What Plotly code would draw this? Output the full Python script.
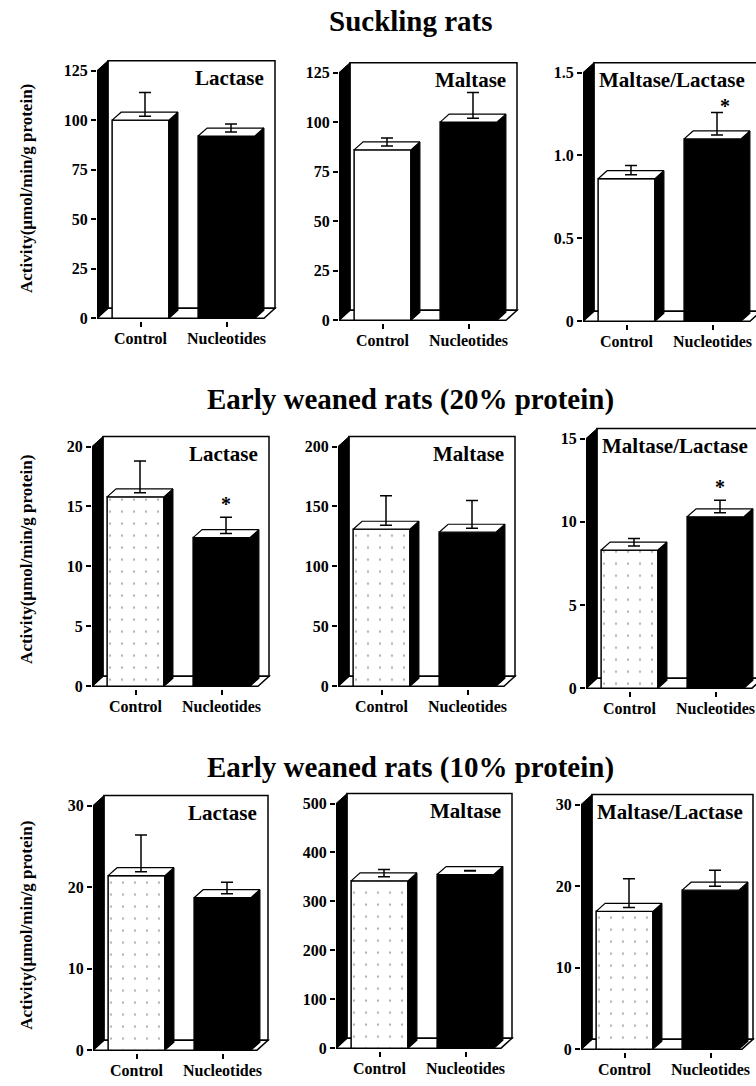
import plotly.graph_objects as go

# ---------------- data ----------------
groups = ["Suckling rats", "Early weaned rats (20% protein)", "Early weaned rats (10% protein)"]
enzymes = ["Lactase", "Maltase", "Maltase/Lactase"]
categories = ["Control", "Nucleotides"]

control_mean = [[100, 86, 0.86], [15.8, 131, 8.3], [21.4, 342, 16.9]]
control_sem = [[14, 6, 0.08], [3.0, 28, 0.7], [5.0, 23, 4.0]]
nucleo_mean = [[92, 100, 1.10], [12.4, 128.5, 10.3], [18.7, 355, 19.5]]
nucleo_sem = [[6, 15, 0.16], [1.7, 26.5, 1.0], [1.9, 7, 2.45]]
significant = [[False, False, True], [True, False, True], [False, False, False]]

y_max = [[125, 125, 1.5], [20, 200, 15], [30, 500, 30]]
y_ticks = [
    [[0, 25, 50, 75, 100, 125], [0, 25, 50, 75, 100, 125], [0, 0.5, 1.0, 1.5]],
    [[0, 5, 10, 15, 20], [0, 50, 100, 150, 200], [0, 5, 10, 15]],
    [[0, 10, 20, 30], [0, 100, 200, 300, 400, 500], [0, 10, 20, 30]],
]
y_ticktext = [
    [["0", "25", "50", "75", "100", "125"], ["0", "25", "50", "75", "100", "125"], ["0", "0.5", "1.0", "1.5"]],
    [["0", "5", "10", "15", "20"], ["0", "50", "100", "150", "200"], ["0", "5", "10", "15"]],
    [["0", "10", "20", "30"], ["0", "100", "200", "300", "400", "500"], ["0", "10", "20", "30"]],
]
y_title = "Activity(µmol/min/g protein)"

# ---------------- layout geometry (pixels) ----------------
W, H = 756, 1086
panel_x0 = [[97, 339, 583], [92, 338, 586], [93, 336, 581]]
panel_x1 = [[275, 517, 761], [269, 515, 763], [268, 512, 753]]
panel_y0 = [[320, 322, 323], [690, 690, 692], [1056, 1054, 1055]]
panel_yt = [[71, 73, 73], [449, 449, 441], [810, 808, 809]]
title_y = [21, 402, 772]
ytitle_y = [190, 563, 931]

K = 86.0          # px per category unit
CTRL_OFF = 43.5   # px from axis to control bar centre
BAR_W = 0.66
BAR_DX_PX, BAR_DY_PX = 9, 8
WALL_DX_PX, WALL_DY_PX = 11, 10
PAD = 3
FONT = "Liberation Serif, Times New Roman, serif"

fig = go.Figure()
shapes = []
annotations = []
layout_axes = {}

for r in range(3):
    for c in range(3):
        idx = r * 3 + c + 1
        xa = "x" if idx == 1 else f"x{idx}"
        ya = "y" if idx == 1 else f"y{idx}"
        xa_key = "xaxis" if idx == 1 else f"xaxis{idx}"
        ya_key = "yaxis" if idx == 1 else f"yaxis{idx}"

        x0, x1 = panel_x0[r][c], panel_x1[r][c]
        y0, yt = panel_y0[r][c], panel_yt[r][c]
        ym = y_max[r][c]
        ppu = (y0 - yt) / ym  # px per y unit

        xmin = -CTRL_OFF / K
        xr = xmin + (x1 - x0) / K
        xmax_px = min(x1 + PAD, W)
        xmax = xmin + (xmax_px - x0) / K
        ytop_px = yt - WALL_DY_PX
        top_px = ytop_px - PAD
        ymin = -PAD / ppu
        ymaxr = (y0 - top_px) / ppu

        dxw = WALL_DX_PX / K
        dyw = WALL_DY_PX / ppu
        bdx = BAR_DX_PX / K
        bdy = BAR_DY_PX / ppu

        layout_axes[xa_key] = dict(
            domain=[x0 / W, xmax_px / W], range=[xmin, xmax], anchor=ya,
            showgrid=False, zeroline=False, showline=False,
            tickmode="array", tickvals=[0, 1], ticktext=categories,
            ticks="outside", ticklen=5, tickwidth=1.5, tickcolor="black",
            ticklabelstandoff=-2,
            tickfont=dict(family=FONT, size=16, color="black", weight="bold"),
            fixedrange=True,
        )
        layout_axes[ya_key] = dict(
            domain=[1 - (y0 + PAD) / H, 1 - top_px / H], range=[ymin, ymaxr], anchor=xa,
            showgrid=False, zeroline=False, showline=False,
            tickmode="array", tickvals=y_ticks[r][c], ticktext=y_ticktext[r][c],
            ticks="outside", ticklen=5, tickwidth=1.5, tickcolor="black",
            tickfont=dict(family=FONT, size=16, color="black", weight="bold"),
            fixedrange=True,
        )

        # back wall, floor, side wall
        shapes.append(dict(type="rect", xref=xa, yref=ya, x0=xmin + dxw, x1=xr, y0=dyw, y1=ym + dyw,
                           fillcolor="white", line=dict(color="black", width=1.5), layer="below"))
        shapes.append(dict(type="path", xref=xa, yref=ya,
                           path=f"M {xmin},0 L {xr - dxw},0 L {xr},{dyw} L {xmin + dxw},{dyw} Z",
                           fillcolor="white", line=dict(color="black", width=1.5), layer="below"))
        shapes.append(dict(type="path", xref=xa, yref=ya,
                           path=f"M {xmin},0 L {xmin},{ym} L {xmin + dxw},{ym + dyw} L {xmin + dxw},{dyw} Z",
                           fillcolor="black", line=dict(color="black", width=1), layer="below"))

        means = [control_mean[r][c], nucleo_mean[r][c]]
        sems = [control_sem[r][c], nucleo_sem[r][c]]

        # front faces
        ctrl_pattern = dict(shape="." if r > 0 else "", size=12, solidity=0.03, fgcolor="#666", fillmode="overlay")
        fig.add_trace(go.Bar(x=[0], y=[means[0]], width=BAR_W, xaxis=xa, yaxis=ya,
                             marker=dict(color="white", line=dict(color="black", width=1.5), pattern=ctrl_pattern),
                             showlegend=False, hoverinfo="skip"))
        fig.add_trace(go.Bar(x=[1], y=[means[1]], width=BAR_W, xaxis=xa, yaxis=ya,
                             marker=dict(color="black", line=dict(color="black", width=1.5)),
                             showlegend=False, hoverinfo="skip"))

        # side and top faces
        sx, sy, tx, ty = [], [], [], []
        for i, v in enumerate(means):
            left, right = i - BAR_W / 2, i + BAR_W / 2
            sx += [right, right, right + bdx, right + bdx, right, None]
            sy += [0, v, v + bdy, bdy, 0, None]
            tx += [left, right, right + bdx, left + bdx, left, None]
            ty += [v, v, v + bdy, v + bdy, v, None]
        fig.add_trace(go.Scatter(x=sx, y=sy, xaxis=xa, yaxis=ya, mode="lines", fill="toself",
                                 fillcolor="black", line=dict(color="black", width=1.2),
                                 showlegend=False, hoverinfo="skip"))
        fig.add_trace(go.Scatter(x=tx, y=ty, xaxis=xa, yaxis=ya, mode="lines", fill="toself",
                                 fillcolor="white", line=dict(color="black", width=1.2),
                                 showlegend=False, hoverinfo="skip"))

        # error bars
        ex = [i + bdx / 2 for i in range(2)]
        ey = [v + bdy / 2 for v in means]
        eu = [s - bdy / 2 for s in sems]
        fig.add_trace(go.Scatter(x=ex, y=ey, xaxis=xa, yaxis=ya, mode="markers",
                                 marker=dict(size=1, color="rgba(0,0,0,0)"),
                                 error_y=dict(type="data", symmetric=False, array=eu, arrayminus=[0, 0],
                                              color="black", thickness=1.5, width=6),
                                 showlegend=False, hoverinfo="skip"))

        if significant[r][c]:
            annotations.append(dict(x=1 + bdx / 2, y=means[1] + sems[1], xref=xa, yref=ya,
                                    text="*", showarrow=False, yanchor="bottom",
                                    xshift=8 if r == 0 else 0, yshift=-7 if r == 0 else 0,
                                    font=dict(family=FONT, size=20, color="black", weight="bold")))

        # panel label
        if c < 2:
            annotations.append(dict(x=(x1 - 9) / W, y=1 - (ytop_px + 3) / H, xref="paper", yref="paper",
                                    text=enzymes[c], showarrow=False, xanchor="right", yanchor="top",
                                    font=dict(family=FONT, size=21, color="black", weight="bold")))
        else:
            annotations.append(dict(x=(x0 + WALL_DX_PX + 3) / W, y=1 - (ytop_px + 3) / H, xref="paper", yref="paper",
                                    text=enzymes[c], showarrow=False, xanchor="left", yanchor="top",
                                    font=dict(family=FONT, size=21, color="black", weight="bold")))

    # row title and y axis title
    annotations.append(dict(x=411 / W, y=1 - title_y[r] / H, xref="paper", yref="paper",
                            text=groups[r], showarrow=False, xanchor="center", yanchor="middle",
                            font=dict(family=FONT, size=29, color="black", weight="bold")))
    annotations.append(dict(x=27 / W, y=1 - ytitle_y[r] / H, xref="paper", yref="paper",
                            text=y_title, showarrow=False, xanchor="center", yanchor="middle", textangle=-90,
                            font=dict(family=FONT, size=17, color="black", weight="bold")))

fig.update_layout(
    width=W, height=H, margin=dict(l=0, r=0, t=0, b=0),
    paper_bgcolor="white", plot_bgcolor="rgba(0,0,0,0)",
    barmode="overlay", showlegend=False,
    shapes=shapes, annotations=annotations,
    **layout_axes,
)

fig.write_html("out.html", config={"displayModeBar": False},
               post_script="document.body.style.margin='0';")
